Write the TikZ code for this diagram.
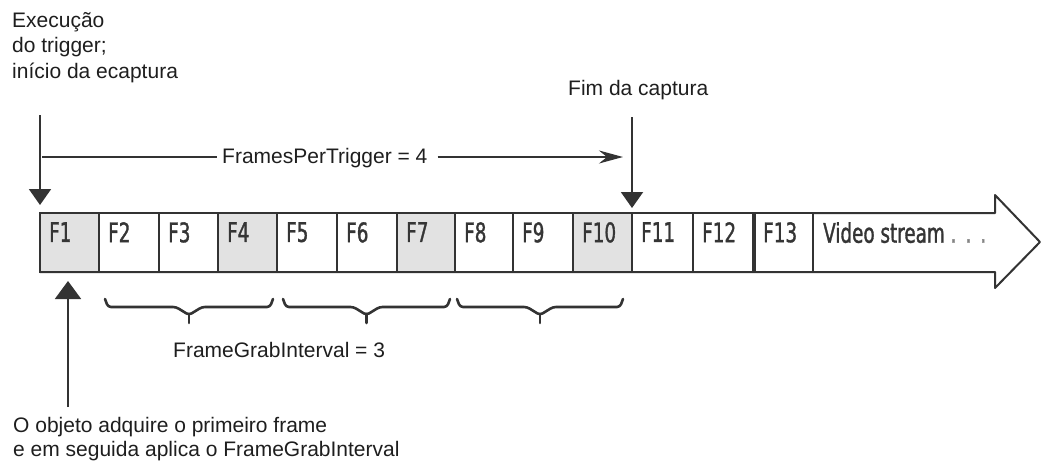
\documentclass[tikz,border=0pt]{standalone}
\usepackage{fontspec}
\setmainfont{Liberation Sans}
\newfontfamily\framefont[FakeStretch=0.68,FakeBold=1.2]{DejaVu Sans}
\usetikzlibrary{arrows.meta}
\definecolor{ink}{HTML}{1E1E1E}
\definecolor{edge}{HTML}{333333}
\definecolor{shade}{HTML}{E2E2E2}
\newcommand\ybrace[2]{%
  \pgfmathsetmacro\xm{(#1+#2)/2}%
  \draw[brc] (#1,299) -- (#1+3,307) -- (\xm-13,307) -- (\xm,315) -- (\xm+13,307) -- (#2-3,307) -- (#2,299);
  \draw[brc, rounded corners=0pt] (\xm,314) -- (\xm,323);
}
\begin{document}
\begin{tikzpicture}[x=1pt,y=-1pt,
  txt/.style={font=\fontsize{21}{25.5}\selectfont, text=ink, inner sep=0pt, align=left},
  cell/.style={draw=edge, line width=2pt, minimum height=59pt, inner sep=0pt, outer sep=0pt, anchor=north west},
  flab/.style={font=\framefont\fontsize{27}{27}\selectfont, text=ink!90, inner sep=0pt, anchor=north west},
  downarr/.style={draw=edge, line width=2pt, -{Triangle[width=22pt,length=16pt]}},
  brc/.style={draw=edge, line width=2.6pt, rounded corners=3pt, line cap=round}]
\useasboundingbox (0,0) rectangle (1043,461);
% stream arrow outline
\draw[edge, line width=2pt, fill=white, line join=round]
  (40,213) -- (995,213) -- (995,195) -- (1040,242) -- (995,288) -- (995,272) -- (40,272) -- cycle;
% frame cells
\foreach \i/\xa/\xb/\fc in {1/40/99/shade, 2/99/159/white, 3/159/218/white, 4/218/277/shade,
  5/277/337/white, 6/337/397/white, 7/397/455/shade, 8/455/513/white, 9/513/573/white,
  10/573/632/shade, 11/632/693/white, 12/693/754/white, 13/754/813/white}{
  \pgfmathsetmacro\w{\xb-\xa}
  \node[cell, minimum width=\w pt, fill=\fc] (c\i) at (\xa,213) {};
  \node[flab] (l\i) at ([xshift=9pt,yshift=-9pt]c\i.north west) {F\i};
}
\draw[edge, line width=3.4pt] (c13.north west) -- (c13.south west);
\node[flab] (vid) at ([xshift=10pt,yshift=-9pt]c13.north east) {Video stream {\color{ink!55}.\,\,.\,\,.}};
% texts
\node[txt, anchor=north west] (exec) at (12,12) {Execução\\do trigger;\\início da ecaptura};
\node[txt, anchor=base west] (fim) at (568,95) {Fim da captura};
\node[txt, anchor=base west] (fpt) at (222,163) {FramesPerTrigger = 4};
\node[txt, anchor=base west] (fgi) at (173,357) {FrameGrabInterval = 3};
\node[txt, anchor=north west, font=\fontsize{21}{24}\selectfont] (obj) at (13,417.5) {O objeto adquire o primeiro frame\\e em seguida aplica o FrameGrabInterval};
% arrows
\coordinate (trigtop) at (40,115);
\coordinate (fimtop) at (632,117);
\coordinate (objbot) at (68,407);
\coordinate (fptL) at (42,157);
\coordinate (fptR) at (623,157);
\draw[downarr, shorten >=8pt] (trigtop) -- (c1.north west);
\draw[downarr, shorten >=5pt] (fimtop) -- (c11.north west);
\draw[downarr, -{Triangle[width=26pt,length=18pt]}, shorten >=9pt] (objbot) -- (objbot |- c1.south);
\draw[draw=edge, line width=2pt] (fptL) -- ([xshift=-5pt]fptL -| fpt.west);
\draw[draw=edge, line width=2pt, -{Stealth[length=24pt,width=13pt,inset=8pt]}] ([xshift=10pt]fptR -| fpt.east) -- (fptR);
% braces
\ybrace{105}{273}
\ybrace{283}{450}
\ybrace{457}{623}
\end{tikzpicture}
\end{document}
